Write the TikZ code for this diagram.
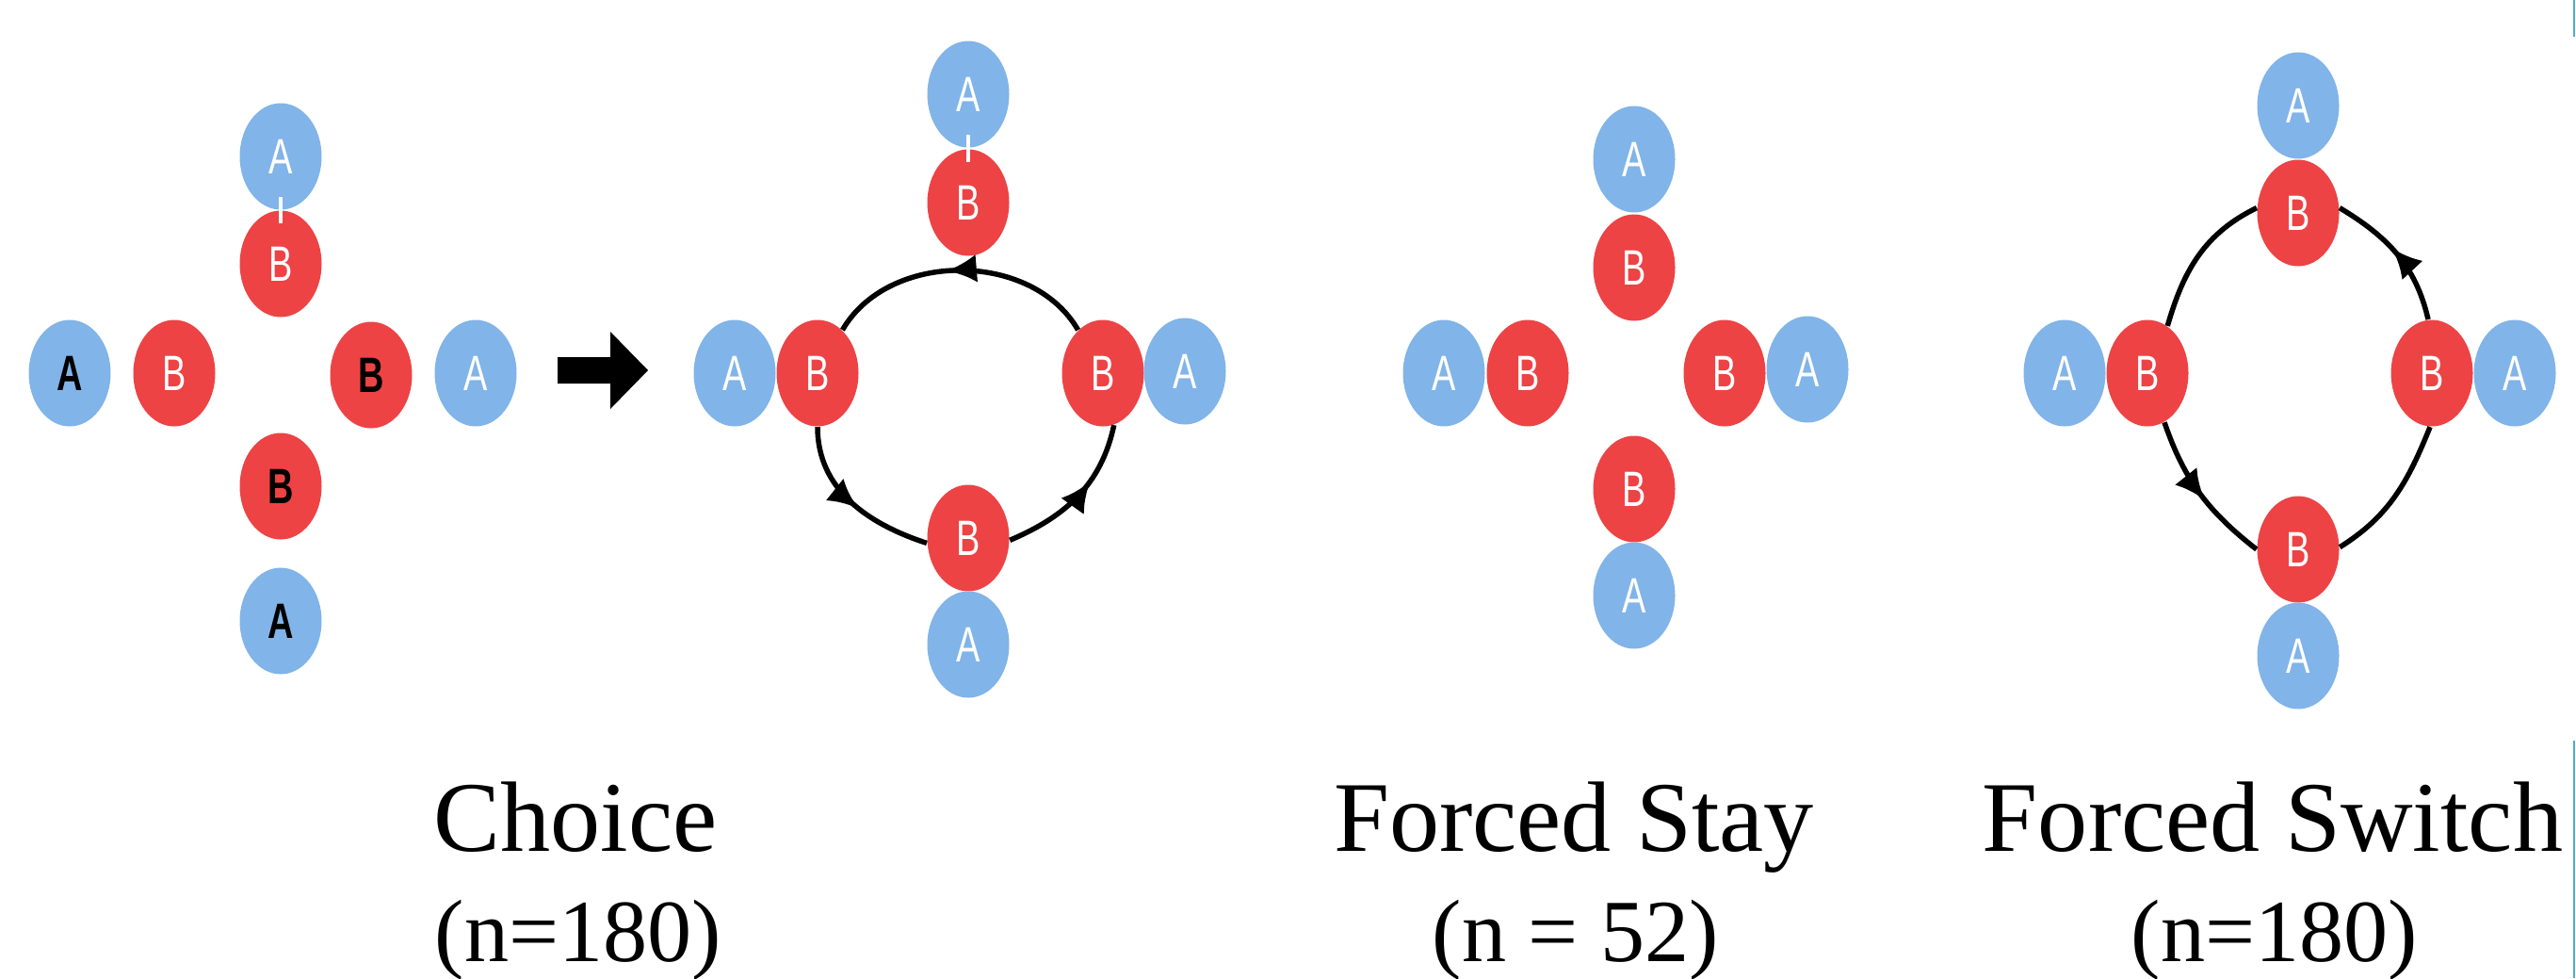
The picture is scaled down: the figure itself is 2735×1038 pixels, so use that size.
\documentclass[tikz,border=0pt]{standalone}
\usepackage{fontspec}
\setmainfont{Liberation Serif}
\newfontfamily\agentfont[FakeStretch=0.72]{Liberation Sans}
\usetikzlibrary{shapes.geometric,arrows.meta,decorations.markings}
\definecolor{blueA}{RGB}{129,180,232}
\definecolor{redB}{RGB}{237,67,69}
\definecolor{edgeteal}{RGB}{76,174,200}

\newcommand{\agentA}[4][]{\node[agent, fill=blueA, #1] (#2) at (#3,-#4) {A};}
\newcommand{\agentB}[4][]{\node[agent, fill=redB, #1] (#2) at (#3,-#4) {B};}
\newcommand{\joinmark}[2]{\draw[tickmark] ([yshift=1.4mm]#1.south) -- ([yshift=-1.4mm]#2.north);}

\begin{document}
\begin{tikzpicture}
    [
    x=0.1mm, y=0.1mm,
    agent/.style={ellipse, minimum width=8.7mm, minimum height=11.3mm, inner sep=0pt, text=white, font=\agentfont\fontsize{15}{16}\selectfont},
    dark/.style={text=black, font=\agentfont\bfseries\fontsize{15}{16}\selectfont},
    flow/.style={line width=0.55mm},
    midtip/.style={postaction=decorate, decoration={markings, mark=at position #1 with {\arrow{Latex[length=3.2mm,width=3mm]}}}},
    midtip/.default=0.5,
    tickmark/.style={white, line width=0.4mm},
    title/.style={anchor=base, font=\fontsize{30.2}{34}\selectfont},
    count/.style={anchor=base, font=\fontsize{26.8}{30}\selectfont},
    ]
    \useasboundingbox (0,0) rectangle (2735,-1038);

    % choice, before
    \agentA{lTA}{298}{166}      \agentB{lTB}{298}{280}
    \agentA[dark]{lLA}{74}{396} \agentB{lLB}{185}{396}
    \agentB[dark]{lRB}{394}{398} \agentA{lRA}{505}{396}
    \agentB[dark]{lBB}{298}{516} \agentA[dark]{lBA}{298}{659}
    \joinmark{lTA}{lTB}

    \fill (592,-379) -- (648,-379) -- (648,-352) -- (688,-393) -- (648,-434) -- (648,-407) -- (592,-407) -- cycle;

    % choice, after
    \agentA{cTA}{1028}{100}     \agentB{cTB}{1028}{215}
    \agentA{cLA}{780}{396}      \agentB{cLB}{868}{396}
    \agentB{cRB}{1171}{396}     \agentA{cRA}{1258}{394}
    \agentB{cBB}{1028}{571}     \agentA{cBA}{1028}{684}
    \joinmark{cTA}{cTB}
    \draw[flow, midtip=0.55] (cRB) to[bend right=60] (cLB);
    \draw[flow, midtip=0.55] (cLB.south) to[out=270, in=162] (cBB.187);
    \draw[flow, midtip=0.62] (cBB.-3) to[out=23, in=258] (cRB.282);

    % forced stay
    \agentA{sTA}{1735}{169}     \agentB{sTB}{1735}{284}
    \agentA{sLA}{1533}{396}     \agentB{sLB}{1622}{396}
    \agentB{sRB}{1831}{396}     \agentA{sRA}{1919}{392}
    \agentB{sBB}{1735}{519}     \agentA{sBA}{1735}{632}

    % forced switch
    \agentA{wTA}{2440}{112}     \agentB{wTB}{2440}{226}
    \agentA{wLA}{2192}{396}     \agentB{wLB}{2280}{396}
    \agentB{wRB}{2582}{396}     \agentA{wRA}{2670}{396}
    \agentB{wBB}{2440}{583}     \agentA{wBA}{2440}{696}
    \draw[flow, midtip=0.55] (wRB.94) to[out=103, in=-31] (wTB.7);
    \draw[flow] (wTB.173) to[out=206, in=74] (wLB.67);
    \draw[flow, midtip=0.55] (wLB.289) to[out=289, in=142] (wBB.180);
    \draw[flow] (wBB.3) to[out=32, in=248] (wRB.268);

    % labels
    \node[title] (choiceT) at (611,-903) {Choice};
    \node[count] (choiceN) at (614,-1020) {(n=180)};
    \node[title] (stayT) at (1671,-903) {Forced Stay};
    \node[count] (stayN) at (1673,-1020) {(n = 52)};
    \node[title] (switchT) at (2413,-903) {Forced Switch};
    \node[count] (switchN) at (2415,-1020) {(n=180)};

    \draw[edgeteal, line width=0.25mm] (2733,0) -- (2733,-39);
    \draw[edgeteal, line width=0.25mm] (2733,-786) -- (2733,-1038);
\end{tikzpicture}
\end{document}
